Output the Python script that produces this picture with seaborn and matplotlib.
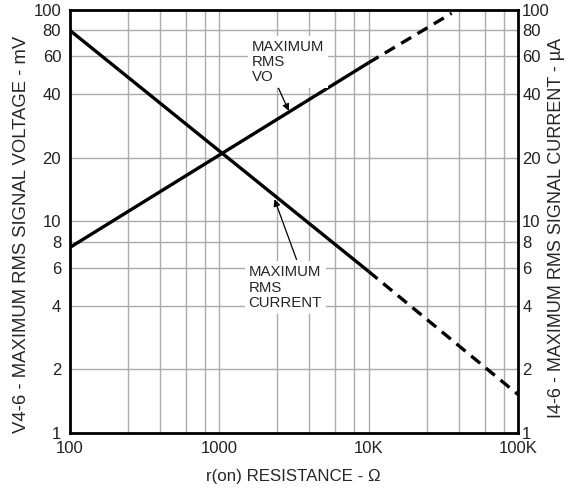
import numpy as np
import pandas as pd
import seaborn as sns
import matplotlib.pyplot as plt
from matplotlib.ticker import FixedLocator, NullFormatter

# values (log-log)
vo_solid_x = [100, 10000]
vo_solid_y = [7.5, 56]
vo_dash_x = [10000, 36000]
vo_dash_y = [56, 96]
cur_solid_x = [100, 10000]
cur_solid_y = [80, 5.8]
cur_dash_x = [10000, 100000]
cur_dash_y = [5.8, 1.52]

x_major = [100, 1000, 10000, 100000]
x_labels = ["100", "1000", "10K", "100K"]
x_minor = [m * d for d in [100, 1000, 10000] for m in [2.45, 4, 6, 8]]
y_ticks = [1, 2, 4, 6, 8, 10, 20, 40, 60, 80, 100]
y_labels = [str(v) for v in y_ticks]

sns.set_style("white")
plt.rcParams['font.family'] = ['Liberation Sans', 'DejaVu Sans']

fig = plt.figure(figsize=(5.74, 4.91), dpi=100)
ax = fig.add_axes([69.5 / 574, 1 - 433 / 491, (518 - 69.5) / 574, (433 - 9.5) / 491])

segments = [
    (vo_solid_x, vo_solid_y, "-"),
    (vo_dash_x, vo_dash_y, "--"),
    (cur_solid_x, cur_solid_y, "-"),
    (cur_dash_x, cur_dash_y, "--"),
]
for xs, ys, ls in segments:
    df = pd.DataFrame({"x": xs, "y": ys})
    line = sns.lineplot(data=df, x="x", y="y", ax=ax, color="black", lw=2.4, zorder=3)
    if ls == "--":
        line.lines[-1].set_dashes((3.5, 2.2))
    line.lines[-1].set_solid_capstyle("butt")
    line.lines[-1].set_dash_capstyle("butt")

ax.set_xscale("log")
ax.set_yscale("log")
ax.set_xlim(100, 100000)
ax.set_ylim(1, 100)

ax.xaxis.set_major_locator(FixedLocator(x_major))
ax.set_xticklabels(x_labels)
ax.xaxis.set_minor_locator(FixedLocator(x_minor))
ax.xaxis.set_minor_formatter(NullFormatter())
ax.yaxis.set_major_locator(FixedLocator(y_ticks))
ax.set_yticklabels(y_labels)
ax.yaxis.set_minor_locator(FixedLocator([]))

ax.grid(True, which="both", color="#ababab", lw=1.0, zorder=0)
ax.tick_params(which="both", length=0, labelsize=12, pad=6, colors="#222222")
ax.set_xlabel("r(on) RESISTANCE - \u03a9", fontsize=12.2, labelpad=9)
ax.set_ylabel("V4-6 - MAXIMUM RMS SIGNAL VOLTAGE - mV", fontsize=13.3)
ax.yaxis.set_label_coords(-0.088, 0.47)
for s in ax.spines.values():
    s.set_linewidth(2.0)
    s.set_color("black")
    s.set_visible(True)

ax2 = ax.twinx()
ax2.set_yscale("log")
ax2.set_ylim(1, 100)
ax2.yaxis.set_major_locator(FixedLocator(y_ticks))
ax2.set_yticklabels(y_labels)
ax2.yaxis.set_minor_locator(FixedLocator([]))
ax2.tick_params(which="both", length=0, labelsize=12, pad=3, colors="#222222")
ax2.set_ylabel("I4-6 - MAXIMUM RMS SIGNAL CURRENT - \u00b5A", fontsize=13.0,
               rotation=90)
ax2.yaxis.set_label_coords(1.068, 0.485)
ax2.grid(False)
for s in ax2.spines.values():
    s.set_visible(False)

box = dict(boxstyle="square,pad=0.25", fc="white", ec="none")
arrow = dict(arrowstyle="-|>", color="black", lw=0.9, mutation_scale=10,
             shrinkA=0, shrinkB=0)

ax.text(1650, 72, "MAXIMUM\nRMS\nVO", fontsize=10.8, ha="left", va="top",
        linespacing=1.12, bbox=box, zorder=4)
ax.annotate("", xy=(2930, 33.2), xytext=(2500, 42.5), arrowprops=arrow, zorder=5)

ax.text(1580, 6.2, "MAXIMUM\nRMS\nCURRENT", fontsize=10.8, ha="left", va="top",
        linespacing=1.12, bbox=box, zorder=4)
ax.annotate("", xy=(2350, 12.7), xytext=(3300, 6.6), arrowprops=arrow, zorder=5)

fig.savefig("out.png", dpi=100)
